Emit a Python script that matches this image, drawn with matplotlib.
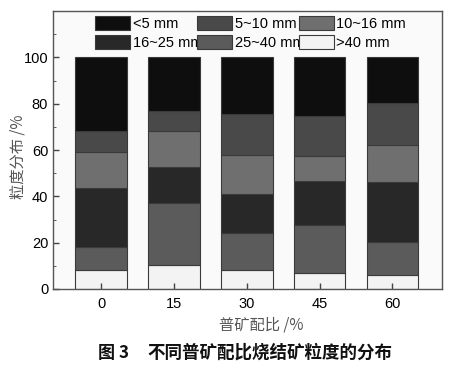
import matplotlib
matplotlib.use("Agg")
import matplotlib.pyplot as plt
import numpy as np
from matplotlib.ticker import MultipleLocator

plt.rcParams['font.family'] = ['Noto Sans CJK SC', 'DejaVu Sans']
LAT = ['Liberation Sans', 'DejaVu Sans']

ratios = ["0", "15", "30", "45", "60"]
labels = ["<5 mm", "5~10 mm", "10~16 mm", "16~25 mm", "25~40 mm", ">40 mm"]
# fractions (%) per class
gt40 = [8.0, 10.4, 8.0, 6.9, 6.0]
s25_40 = [10.3, 26.6, 16.3, 20.8, 14.4]
s16_25 = [25.4, 15.6, 16.8, 18.9, 25.7]
s10_16 = [15.6, 15.6, 16.8, 10.8, 16.2]
s5_10 = [8.7, 8.6, 17.5, 17.3, 18.0]
lt5 = [32.0, 23.4, 24.6, 25.3, 19.7]

colors = {"<5 mm": "#0e0e0e", "5~10 mm": "#494949", "10~16 mm": "#6f6f6f",
          "16~25 mm": "#282828", "25~40 mm": "#5b5b5b", ">40 mm": "#f3f3f3"}

fig = plt.figure(figsize=(4.59, 3.74), dpi=100)
ax = fig.add_axes([53/459, 1-289/374, (442-53)/459, (289-11)/374])
ax.set_facecolor("#fafafa")

x = np.arange(len(ratios))
stack_order = [(">40 mm", gt40), ("25~40 mm", s25_40), ("16~25 mm", s16_25),
               ("10~16 mm", s10_16), ("5~10 mm", s5_10), ("<5 mm", lt5)]
bottom = np.zeros(len(ratios))
handles = {}
for name, vals in stack_order:
    b = ax.bar(x, vals, width=0.71, bottom=bottom, color=colors[name],
               edgecolor="#3a3a3a", linewidth=0.8, label=name)
    handles[name] = b
    bottom += np.array(vals)

ax.set_xlim(-0.66, 4.68)
ax.set_ylim(0, 120)
ax.set_xticks(x)
ax.set_xticklabels(ratios, family=LAT, fontsize=10.5)
ax.set_yticks([0, 20, 40, 60, 80, 100])
ax.set_yticklabels(["0", "20", "40", "60", "80", "100"], family=LAT, fontsize=10.5)
ax.yaxis.set_minor_locator(MultipleLocator(10))
ax.tick_params(axis='both', direction='in', length=4, width=1, colors="#444444", labelcolor="black")
ax.tick_params(axis='y', which='minor', direction='in', length=2.5, colors="#444444")
ax.tick_params(axis='x', pad=6)
for s in ax.spines.values():
    s.set_color("#555555")
    s.set_linewidth(1.0)

order = ["<5 mm", "16~25 mm", "5~10 mm", "25~40 mm", "10~16 mm", ">40 mm"]
ax.legend([handles[n] for n in order], order, ncol=3, loc="upper left",
          bbox_to_anchor=((95-53)/389, 1 - (15.5-11)/278), frameon=False,
          prop={'family': LAT, 'size': 10.5},
          handlelength=2.4, handleheight=1.12, handletextpad=0.2,
          columnspacing=-0.4, labelspacing=0.3, borderaxespad=0, borderpad=0)

fig.text(261/459, 1-325/374, "普矿配比 /%", ha="center", va="center", fontsize=11, color="#555555")
fig.text(18/459, 1-157/374, "粒度分布 /%", ha="center", va="center", rotation=90, fontsize=11, color="#555555")
fig.text(98/459, 1-353/374, "图 3", ha="left", va="center",
         fontsize=12.3, fontweight="bold", color="#111111")
fig.text(147/459, 1-353/374, "不同普矿配比烧结矿粒度的分布", ha="left", va="center",
         fontsize=12.6, fontweight="bold", color="#111111")

fig.savefig("out.png", dpi=100)
